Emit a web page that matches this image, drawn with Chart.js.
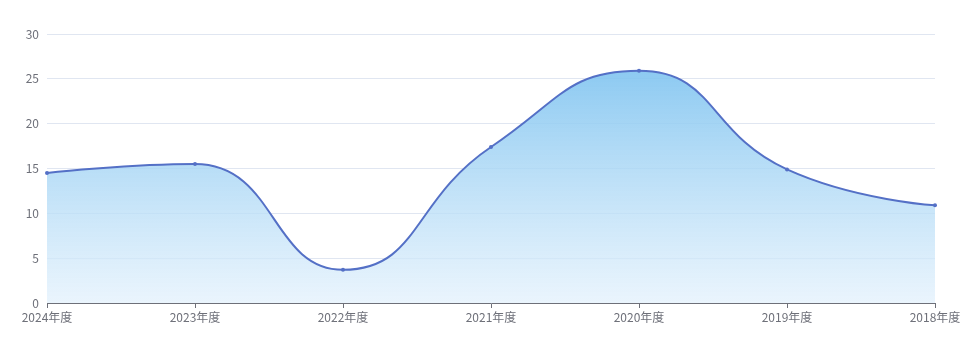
<!DOCTYPE html>
<html><head><meta charset="utf-8">
<script src="https://cdn.jsdelivr.net/npm/chart.js@4"></script>
<style>html,body{margin:0;padding:0;background:#fff}#wrap{width:973px;height:343px}</style>
</head><body><div id="wrap"><canvas id="c" width="973" height="343"></canvas></div>
<script>
const categories = ['2024年度','2023年度','2022年度','2021年度','2020年度','2019年度','2018年度'];
const values = [14.5, 15.5, 3.7, 17.4, 25.9, 14.9, 10.9];
const yTicks = [0, 5, 10, 15, 20, 25, 30];

// Smoothing of the curve's control points (constrained, 0.5 smoothness),
// computed from the points that the library placed through its scales.
const smoothPlugin = {
  id: 'constrainedSmooth',
  afterDatasetsUpdate(chart) {
    const smooth = 0.5;
    chart.data.datasets.forEach((ds, di) => {
      const meta = chart.getDatasetMeta(di);
      const line = meta.dataset;
      if (!line) return;
      line.updateControlPoints(chart.chartArea, 'x');
      const pts = meta.data;
      const n = pts.length;
      if (n < 2) return;
      pts[0].cp1x = pts[0].x; pts[0].cp1y = pts[0].y;
      pts[0].cp2x = pts[0].x; pts[0].cp2y = pts[0].y;
      pts[n-1].cp1x = pts[n-1].x; pts[n-1].cp1y = pts[n-1].y;
      pts[n-1].cp2x = pts[n-1].x; pts[n-1].cp2y = pts[n-1].y;
      for (let i = 1; i < n - 1; i++) {
        const p = pts[i-1], c = pts[i], q = pts[i+1];
        const x = c.x, y = c.y;
        const dx0 = x - p.x, dy0 = y - p.y, dx1 = q.x - x, dy1 = q.y - y;
        const lenPrev = Math.sqrt(dx0*dx0 + dy0*dy0);
        const lenNext = Math.sqrt(dx1*dx1 + dy1*dy1);
        const ratio = lenNext / (lenNext + lenPrev);
        let vx = q.x - p.x, vy = q.y - p.y;
        let nx = x + vx * smooth * ratio, ny = y + vy * smooth * ratio;
        nx = Math.max(Math.min(nx, Math.max(q.x, x)), Math.min(q.x, x));
        ny = Math.max(Math.min(ny, Math.max(q.y, y)), Math.min(q.y, y));
        vx = nx - x; vy = ny - y;
        let px = x - vx * lenPrev / lenNext, py = y - vy * lenPrev / lenNext;
        px = Math.max(Math.min(px, Math.max(p.x, x)), Math.min(p.x, x));
        py = Math.max(Math.min(py, Math.max(p.y, y)), Math.min(p.y, y));
        vx = x - px; vy = y - py;
        nx = x + vx * lenNext / lenPrev; ny = y + vy * lenNext / lenPrev;
        c.cp1x = px; c.cp1y = py; c.cp2x = nx; c.cp2y = ny;
      }
    });
  }
};

const ctx = document.getElementById('c').getContext('2d');
const fontFam = '"Noto Sans CJK SC", "Noto Sans", sans-serif';
new Chart(ctx, {
  type: 'line',
  data: {
    labels: categories,
    datasets: [{
      data: values,
      borderColor: '#5470c6',
      borderWidth: 2,
      pointRadius: 2,
      pointBackgroundColor: '#5470c6',
      pointBorderWidth: 0,
      tension: 0.5,
      fill: 'origin',
      backgroundColor: (c) => {
        const chart = c.chart;
        const a = chart.chartArea;
        if (!a) return 'rgba(128,196,240,0.5)';
        const top = chart.scales.y.getPixelForValue(Math.max(...values));
        const g = chart.ctx.createLinearGradient(0, top, 0, a.bottom);
        g.addColorStop(0, 'rgba(128,196,240,0.9)');
        g.addColorStop(1, 'rgba(225,240,252,0.7)');
        return g;
      }
    }]
  },
  plugins: [smoothPlugin],
  options: {
    responsive: false,
    animation: false,
    layout: { padding: { top: 34, right: 38, left: 0, bottom: 0 } },
    plugins: { legend: { display: false }, tooltip: { enabled: false } },
    scales: {
      x: {
        offset: false,
        grid: { drawOnChartArea: false, drawTicks: true, tickLength: 5, color: '#6e7079' },
        border: { display: true, color: '#6e7079', width: 1 },
        ticks: { color: '#6e7079', font: { family: fontFam, size: 12 }, padding: 2, maxRotation: 0, autoSkip: false },
        afterFit: (s) => { s.height = 40; }
      },
      y: {
        min: 0, max: 30,
        afterBuildTicks: (s) => { s.ticks = yTicks.map(v => ({ value: v })); },
        grid: { color: '#e0e6f1', drawTicks: false },
        border: { display: false },
        ticks: { color: '#6e7079', font: { family: fontFam, size: 12 }, padding: 8 },
        afterFit: (s) => { s.width = 47; }
      }
    }
  }
});
</script>
</body></html>
